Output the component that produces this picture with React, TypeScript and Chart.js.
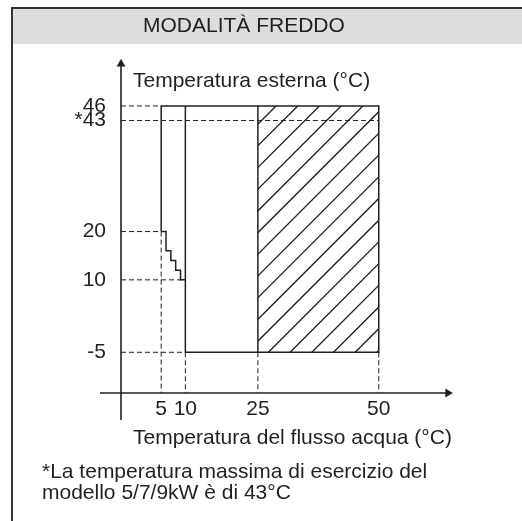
import React, { useEffect, useRef } from 'react';
import { Chart, registerables } from 'chart.js';

Chart.register(...registerables);

const INK = '#231f20';
const BAND = '#dcdddd';
const FONT = '"Liberation Sans", Arial, Helvetica, sans-serif';

// Tick values and labels
const xTicks = [5, 10, 25, 50];
const yTicks = [-5, 10, 20, 43, 46];
const yTickLabels = ['-5', '10', '20', '*43', '46'];

// Operating envelope outline
const envelopeX = [5, 5, 50, 50, 10, 10];
const envelopeY = [20, 46, 46, -5, -5, 46];
// Stepped lower-left boundary
const stepX = [5, 6, 6, 7, 7, 8, 8, 9, 9, 10];
const stepY = [20, 20, 16, 16, 14, 14, 12, 12, 10, 10];
// Divider at 25 °C
const dividerX = [25, 25];
const dividerY = [-5, 46];
// Hatched zone
const hatchX = [25, 50];
const hatchY = [-5, 46];
const HATCH_ANCHOR_X = 28.75; // a hatch line meets the top edge here

// Dashed reference lines
const hGuideY = [46, 43, 20, 10, -5];
const hGuideToX = [5, 50, 5, 10, 10];
const vGuideX = [5, 10, 25, 50];
const vGuideFromY = [20, -5, -5, -5];

// Axis frame (the axes cross at X_MIN / Y_MIN)
const X_MIN = -3.31;
const X_MAX = 65.15;
const Y_MIN = -13.43;
const Y_MAX = 54.9;
const AXIS_X_START = -7.65;
const AXIS_X_END = 64.3;
const AXIS_Y_START = -19;
const AXIS_Y_END = 54.7;

const TITLE = 'MODALITÀ FREDDO';
const Y_TITLE = 'Temperatura esterna (°C)';
const X_TITLE = 'Temperatura del flusso acqua (°C)';
const NOTE = ['*La temperatura massima di esercizio del', 'modello 5/7/9kW è di 43°C'];

const pts = (xs: number[], ys: number[]) => xs.map((x, i) => ({ x, y: ys[i] }));

const lineDs = (data: { x: number; y: number }[], width: number, dash: number[] = []) => ({
  type: 'scatter' as const,
  data,
  showLine: true,
  borderColor: INK,
  borderWidth: width,
  borderDash: dash,
  pointRadius: 0,
  pointHoverRadius: 0,
  fill: false,
  tension: 0,
  clip: false as const,
});

const framePlugin = {
  id: 'frame',
  beforeDraw(chart: any) {
    const ctx = chart.ctx as CanvasRenderingContext2D;
    ctx.save();
    ctx.fillStyle = '#ffffff';
    ctx.fillRect(0, 0, chart.width, chart.height);
    ctx.fillStyle = BAND;
    ctx.fillRect(12, 9, chart.width - 12, 35);
    ctx.strokeStyle = '#333333';
    ctx.lineWidth = 2;
    ctx.beginPath();
    ctx.moveTo(12, chart.height);
    ctx.lineTo(12, 8);
    ctx.lineTo(chart.width, 8);
    ctx.stroke();
    ctx.restore();
  },
};

const hatchPlugin = {
  id: 'hatch',
  beforeDatasetsDraw(chart: any) {
    const ctx = chart.ctx as CanvasRenderingContext2D;
    const xs = chart.scales.x;
    const ys = chart.scales.y;
    const l = xs.getPixelForValue(hatchX[0]);
    const r = xs.getPixelForValue(hatchX[1]);
    const t = ys.getPixelForValue(hatchY[1]);
    const b = ys.getPixelForValue(hatchY[0]);
    const sp = 21.7;
    const anchor = xs.getPixelForValue(HATCH_ANCHOR_X) + t;
    ctx.save();
    ctx.beginPath();
    ctx.rect(l, t, r - l, b - t);
    ctx.clip();
    ctx.strokeStyle = INK;
    ctx.lineWidth = 1.3;
    let k = anchor;
    while (k > l + t) k -= sp;
    ctx.beginPath();
    for (; k < r + b + sp; k += sp) {
      ctx.moveTo(k - b, b);
      ctx.lineTo(k - t, t);
    }
    ctx.stroke();
    ctx.restore();
  },
};

const textPlugin = {
  id: 'texts',
  afterDraw(chart: any) {
    const ctx = chart.ctx as CanvasRenderingContext2D;
    ctx.save();
    ctx.fillStyle = INK;
    ctx.textBaseline = 'alphabetic';
    ctx.textAlign = 'left';
    ctx.font = `21px ${FONT}`;
    ctx.fillText(TITLE, 143, 31.5);
    ctx.fillText(Y_TITLE, 133, 86.5);
    ctx.fillText(X_TITLE, 133, 443.5);
    ctx.fillText(NOTE[0], 42, 477.5);
    ctx.fillText(NOTE[1], 42, 498.5);
    ctx.restore();
  },
};

export default function App() {
  const ref = useRef<HTMLCanvasElement | null>(null);

  useEffect(() => {
    if (!ref.current) return;
    const datasets: any[] = [];
    // axes
    datasets.push(lineDs(pts([X_MIN, X_MIN], [AXIS_Y_START, AXIS_Y_END]), 1.6));
    datasets.push(lineDs(pts([AXIS_X_START, AXIS_X_END], [Y_MIN, Y_MIN]), 1.6));
    datasets.push({
      type: 'scatter',
      data: pts([X_MIN, AXIS_X_END], [AXIS_Y_END, Y_MIN]),
      showLine: false,
      pointStyle: 'triangle',
      pointRotation: [0, 90],
      pointRadius: 4.6,
      pointHoverRadius: 4.6,
      pointBackgroundColor: INK,
      pointBorderColor: INK,
      pointBorderWidth: 0.5,
      clip: false,
    });
    // dashed guides
    hGuideY.forEach((y, i) => datasets.push(lineDs(pts([X_MIN, hGuideToX[i]], [y, y]), 1, [5, 3])));
    vGuideX.forEach((x, i) => datasets.push(lineDs(pts([x, x], [vGuideFromY[i], Y_MIN]), 1, [5, 3])));
    // envelope
    datasets.push(lineDs(pts(envelopeX, envelopeY), 1.5));
    datasets.push(lineDs(pts(stepX, stepY), 1.5));
    datasets.push(lineDs(pts(dividerX, dividerY), 1.5));

    const chart = new Chart(ref.current, {
      type: 'scatter',
      data: { datasets },
      options: {
        animation: false,
        responsive: false,
        devicePixelRatio: 1,
        events: [],
        layout: { padding: { left: 0, right: 70, top: 63, bottom: 0 } },
        plugins: {
          legend: { display: false },
          tooltip: { enabled: false },
          title: { display: false },
        },
        scales: {
          x: {
            type: 'linear',
            position: 'bottom',
            min: X_MIN,
            max: X_MAX,
            grid: { display: false, drawTicks: false, tickLength: 0 },
            border: { display: false },
            afterBuildTicks: (s: any) => {
              s.ticks = xTicks.map((v) => ({ value: v }));
            },
            afterFit: (s: any) => {
              s.height = 128;
            },
            ticks: {
              autoSkip: false,
              maxRotation: 0,
              padding: 4,
              color: INK,
              font: { family: FONT, size: 21 },
              callback: (v: any) => String(v),
            },
          },
          y: {
            type: 'linear',
            position: 'left',
            min: Y_MIN,
            max: Y_MAX,
            grid: { display: false, drawTicks: false, tickLength: 0 },
            border: { display: false },
            afterBuildTicks: (s: any) => {
              s.ticks = yTicks.map((v) => ({ value: v }));
            },
            afterFit: (s: any) => {
              s.width = 121;
            },
            ticks: {
              autoSkip: false,
              padding: 15,
              color: INK,
              font: { family: FONT, size: 21 },
              callback: (v: any) => {
                const i = yTicks.indexOf(Number(v));
                return i >= 0 ? yTickLabels[i] : '';
              },
            },
          },
        },
      },
      plugins: [framePlugin, hatchPlugin, textPlugin],
    } as any);
    return () => chart.destroy();
  }, []);

  return (
    <div style={{ position: 'absolute', left: 0, top: 0, width: 522, height: 521 }}>
      <canvas ref={ref} width={522} height={521} style={{ display: 'block' }} />
    </div>
  );
}
